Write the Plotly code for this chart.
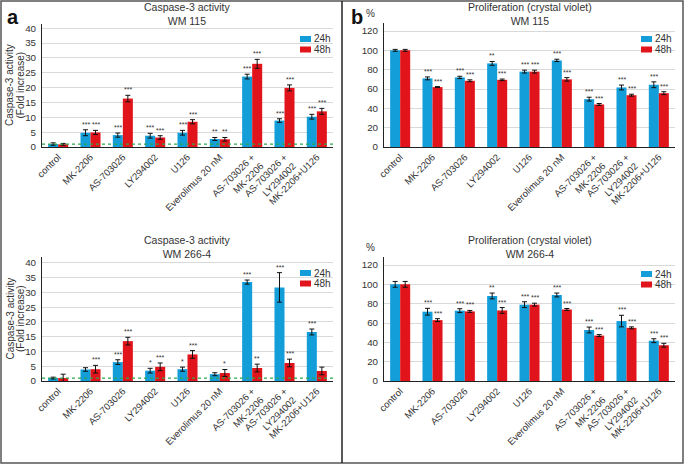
import plotly.graph_objects as go

categories = ["control", "MK-2206", "AS-703026", "LY294002", "U126",
              "Everolimus 20 nM", "AS-703026 +<br>MK-2206",
              "AS-703026 +<br>LY294002", "MK-2206+U126"]

# Caspase-3 activity, WM 115
casp115_24 = [1.0, 4.8, 4.0, 3.8, 4.8, 2.7, 23.7, 8.9, 10.2]
casp115_24_err = [0.4, 1.0, 0.7, 0.8, 0.8, 0.5, 0.8, 0.6, 0.8]
casp115_48 = [0.9, 4.9, 16.3, 3.2, 8.5, 2.6, 28.0, 19.9, 12.0]
casp115_48_err = [0.3, 0.7, 1.1, 0.6, 0.7, 0.6, 1.5, 1.0, 1.0]
casp115_24_sig = ["", "***", "***", "***", "***", "**", "***", "***", "***"]
casp115_48_sig = ["", "***", "***", "***", "***", "**", "***", "***", "***"]

# Caspase-3 activity, WM 266-4
casp266_24 = [1.0, 3.9, 6.4, 3.5, 4.0, 2.3, 33.5, 31.7, 16.6]
casp266_24_err = [0.3, 0.6, 0.8, 0.8, 0.7, 0.5, 0.7, 5.0, 1.0]
casp266_48 = [1.0, 4.0, 13.5, 4.8, 9.0, 2.7, 4.4, 6.1, 3.4]
casp266_48_err = [1.3, 1.3, 1.3, 1.3, 1.3, 1.2, 1.3, 1.3, 1.3]
casp266_24_sig = ["", "", "***", "*", "*", "", "***", "***", "***"]
casp266_48_sig = ["", "***", "***", "***", "***", "*", "**", "***", ""]

# Proliferation (crystal violet), WM 115
prol115_24 = [100, 71, 72, 86.5, 78, 89.6, 49.5, 61.6, 64.4]
prol115_24_err = [1.0, 1.5, 1.2, 2.0, 1.5, 1.2, 2.0, 2.5, 3.0]
prol115_48 = [100, 62, 68.5, 69.5, 78, 70, 44, 53.6, 55.7]
prol115_48_err = [1.0, 0.5, 1.0, 0.8, 1.5, 1.8, 1.0, 1.0, 1.5]
prol115_24_sig = ["", "***", "***", "**", "***", "***", "***", "***", "***"]
prol115_48_sig = ["", "***", "***", "***", "***", "***", "***", "***", "***"]

# Proliferation (crystal violet), WM 266-4
prol266_24 = [100, 71.7, 72.8, 88, 79, 89, 52.8, 62, 41.7]
prol266_24_err = [3.0, 3.5, 2.0, 3.0, 3.0, 2.0, 3.0, 6.0, 2.0]
prol266_48 = [100, 63, 72, 73, 79, 74, 47, 55, 37]
prol266_48_err = [3.0, 1.5, 1.0, 3.0, 1.5, 1.0, 1.0, 1.0, 2.0]
prol266_24_sig = ["", "***", "***", "**", "***", "***", "***", "***", "***"]
prol266_48_sig = ["", "***", "***", "***", "***", "***", "***", "***", "***"]

series_names = ["24h", "48h"]
colors = ["#139ed9", "#e2141b"]

W, H = 685, 465
FONT = "Liberation Sans, Arial, sans-serif"


def px(x):
    return x / W


def py(y):
    return 1 - y / H


panels = [
    dict(title="Caspase-3 activity<br>WM 115", s24=casp115_24, e24=casp115_24_err,
         s48=casp115_48, e48=casp115_48_err, g24=casp115_24_sig, g48=casp115_48_sig,
         xd=(42, 333), yd=(147, 24), yr=41.4, dt=5, caspase=True, ttl=29, leg=(300, 36)),
    dict(title="Proliferation (crystal violet)<br>WM 115", s24=prol115_24, e24=prol115_24_err,
         s48=prol115_48, e48=prol115_48_err, g24=prol115_24_sig, g48=prol115_48_sig,
         xd=(384, 675), yd=(147, 23), yr=128.3, dt=20, caspase=False, ttl=29, leg=(641, 36)),
    dict(title="Caspase-3 activity<br>WM 266-4", s24=casp266_24, e24=casp266_24_err,
         s48=casp266_48, e48=casp266_48_err, g24=casp266_24_sig, g48=casp266_48_sig,
         xd=(42, 333), yd=(381, 257), yr=42.0, dt=5, caspase=True, ttl=262, leg=(300, 270)),
    dict(title="Proliferation (crystal violet)<br>WM 266-4", s24=prol266_24, e24=prol266_24_err,
         s48=prol266_48, e48=prol266_48_err, g24=prol266_24_sig, g48=prol266_48_sig,
         xd=(384, 675), yd=(381, 257), yr=128.3, dt=20, caspase=False, ttl=262, leg=(641, 271)),
]

fig = go.Figure()
annotations = []
shapes = []

for k, p in enumerate(panels):
    n = k + 1
    xa = "x" if n == 1 else f"x{n}"
    ya = "y" if n == 1 else f"y{n}"
    for name, vals, errs, col in [("24h", p["s24"], p["e24"], colors[0]),
                                  ("48h", p["s48"], p["e48"], colors[1])]:
        fig.add_trace(go.Bar(
            x=categories, y=vals, name=name, marker=dict(color=col, line=dict(width=0)),
            error_y=dict(type="data", array=errs, color="#111", thickness=1, width=2.5),
            xaxis=xa, yaxis=ya, offsetgroup=name, showlegend=False,
        ))
    # significance stars
    for sig, vals, errs, shift in [(p["g24"], p["s24"], p["e24"], -5),
                                   (p["g48"], p["s48"], p["e48"], 5)]:
        for c, s, v, e in zip(categories, sig, vals, errs):
            if s:
                annotations.append(dict(
                    x=c, y=v + e, xref=xa, yref=ya, text=s, showarrow=False,
                    xshift=shift, yshift=0, yanchor="bottom",
                    font=dict(size=7, color="#333", family=FONT)))
    axname = "xaxis" if n == 1 else f"xaxis{n}"
    ayname = "yaxis" if n == 1 else f"yaxis{n}"
    fig.layout[axname] = dict(
        domain=[px(p["xd"][0]), px(p["xd"][1])], anchor=ya, type="category",
        showline=True, linecolor="#222", linewidth=1, ticks="", automargin=False,
        tickangle=-45, tickfont=dict(size=9.5, color="#333", family=FONT),
        showgrid=False, fixedrange=True)
    fig.layout[ayname] = dict(
        domain=[py(p["yd"][0]), py(p["yd"][1])], anchor=xa, range=[0, p["yr"]],
        dtick=p["dt"], showline=True, linecolor="#222", linewidth=1, ticks="",
        automargin=False, ticklabelstandoff=3, fixedrange=True,
        showgrid=True, gridcolor="#d9d9d9", gridwidth=1, zeroline=False,
        tickfont=dict(size=9.8, color="#333", family=FONT))
    # compact legend
    lx, ly = p["leg"]
    for j, (name, col) in enumerate(zip(series_names, colors)):
        y0 = ly + j * 10.5
        shapes.append(dict(type="rect", xref="paper", yref="paper",
                           x0=px(lx), x1=px(lx + 11), y0=py(y0 + 6), y1=py(y0),
                           fillcolor=col, line=dict(width=0)))
        annotations.append(dict(
            x=px(lx + 12), y=py(y0 + 3), xref="paper", yref="paper", text=name,
            showarrow=False, xanchor="left", yanchor="middle",
            font=dict(size=10, color="#333", family=FONT)))
    cx = (px(p["xd"][0]) + px(p["xd"][1])) / 2
    annotations.append(dict(
        x=cx, y=py(p["ttl"]), xref="paper", yref="paper", text=p["title"],
        showarrow=False, yanchor="bottom", xanchor="center",
        font=dict(size=10.5, color="#333", family=FONT)))
    if p["caspase"]:
        shapes.append(dict(type="line", xref=f"{xa} domain", yref=ya, x0=0, x1=1,
                           y0=1, y1=1, line=dict(color="#2aa84a", width=1.2, dash="dot")))
        ymid = (py(p["yd"][0]) + py(p["yd"][1])) / 2
        for line_txt, lxp in [("Caspase-3 activity", 9.5), ("(Fold increase)", 20)]:
            annotations.append(dict(
                x=px(lxp), y=ymid, xref="paper", yref="paper",
                text=line_txt, textangle=-90,
                showarrow=False, xanchor="center", yanchor="middle",
                font=dict(size=10, color="#333", family=FONT)))
    else:
        annotations.append(dict(
            x=px(p["xd"][0] - 14), y=py(p["yd"][1] - 2), xref="paper", yref="paper",
            text="%", showarrow=False, xanchor="center", yanchor="bottom",
            font=dict(size=10, color="#333", family=FONT)))

annotations.append(dict(x=px(5), y=py(4), xref="paper", yref="paper", text="<b>a</b>",
                        showarrow=False, xanchor="left", yanchor="top",
                        font=dict(size=20, color="#111", family=FONT)))
annotations.append(dict(x=px(349), y=py(4), xref="paper", yref="paper", text="<b>b</b>",
                        showarrow=False, xanchor="left", yanchor="top",
                        font=dict(size=20, color="#111", family=FONT)))

shapes.append(dict(type="rect", xref="paper", yref="paper", x0=px(1), x1=px(683),
                   y0=py(463), y1=py(1), line=dict(color="#555", width=1.5)))
shapes.append(dict(type="line", xref="paper", yref="paper", x0=px(342), x1=px(342),
                   y0=py(463), y1=py(1), line=dict(color="#222", width=1.5)))

fig.update_layout(
    width=W, height=H, margin=dict(l=0, r=0, t=0, b=0),
    paper_bgcolor="white", plot_bgcolor="white",
    barmode="group", bargap=0.38, bargroupgap=0, showlegend=False,
    annotations=annotations, shapes=shapes,
    font=dict(family=FONT, color="#333"),
)

fig.write_html("out.html", config={"displayModeBar": False},
               post_script="document.body.style.margin='0';document.body.style.overflow='hidden';")
